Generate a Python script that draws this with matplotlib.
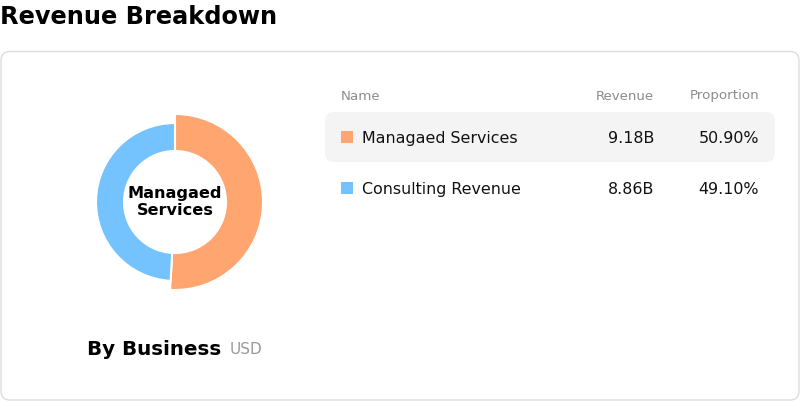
import matplotlib
matplotlib.use("Agg")
import matplotlib.pyplot as plt
from matplotlib.patches import FancyBboxPatch, Rectangle

# data
names = ["Managaed Services", "Consulting Revenue"]
revenue = [9.18, 8.86]          # billions USD
proportion = ["50.90%", "49.10%"]
colors = ["#FFA56F", "#74C3FF"]

fig = plt.figure(figsize=(8, 4.02), dpi=100)

# full-figure axes in pixel units (y pointing down)
ax = fig.add_axes([0, 0, 1, 1])
ax.set_xlim(0, 800)
ax.set_ylim(402, 0)
ax.axis("off")

ax.text(0, 17, "Revenue Breakdown", fontsize=17.3, fontweight="bold", va="center", ha="left")

# card
card = FancyBboxPatch((1, 52.5), 798, 348.5, boxstyle="round,pad=0,rounding_size=9",
                      facecolor="white", edgecolor="#dddddd", linewidth=1)
ax.add_patch(card)

# table
ax.text(341, 96, "Name", fontsize=9.6, color="#8c8c8c", va="center")
ax.text(654, 96, "Revenue", fontsize=9.6, color="#8c8c8c", va="center", ha="right")
ax.text(759, 96, "Proportion", fontsize=9.6, color="#8c8c8c", va="center", ha="right")

hl = FancyBboxPatch((325, 113), 450, 50, boxstyle="round,pad=0,rounding_size=9",
                    facecolor="#f4f4f4", edgecolor="none")
ax.add_patch(hl)

row_y = [138, 189]
for i, name in enumerate(names):
    y = row_y[i]
    ax.add_patch(Rectangle((341, y - 6), 12, 12, facecolor=colors[i], edgecolor="none"))
    ax.text(362, y + 1, name, fontsize=11.45, va="center", color="#111111")
    ax.text(654, y + 1, f"{revenue[i]:.2f}B", fontsize=11.45, va="center", ha="right", color="#111111")
    ax.text(759, y + 1, proportion[i], fontsize=11.45, va="center", ha="right", color="#111111")

# subtitle under donut
ax.text(87, 350, "By Business", fontsize=14.3, fontweight="bold", va="center", ha="left")
ax.text(230, 350, "USD", fontsize=11, color="#999999", va="center", ha="left")

# donut
cx, cy, half = 175, 203, 100
dax = fig.add_axes([(cx - half) / 800, (402 - cy - half) / 402, 2 * half / 800, 2 * half / 402])
dax.set_xlim(-half, half)
dax.set_ylim(-half, half)
dax.set_aspect("equal")
dax.axis("off")

wedges, _ = dax.pie(revenue, colors=colors, startangle=90, counterclock=False,
                    radius=88, wedgeprops=dict(width=37, edgecolor="white", linewidth=1.5))
# the highlighted slice sticks out, the other sits smaller
wedges[1].set_radius(79)
wedges[1].set_width(28)
dax.set_xlim(-half, half)
dax.set_ylim(-half, half)

dax.text(0, 1, "Managaed\nServices", fontsize=11.6, fontweight="bold", ha="center", va="center",
         linespacing=1.12)

fig.savefig("out.png", dpi=100)
